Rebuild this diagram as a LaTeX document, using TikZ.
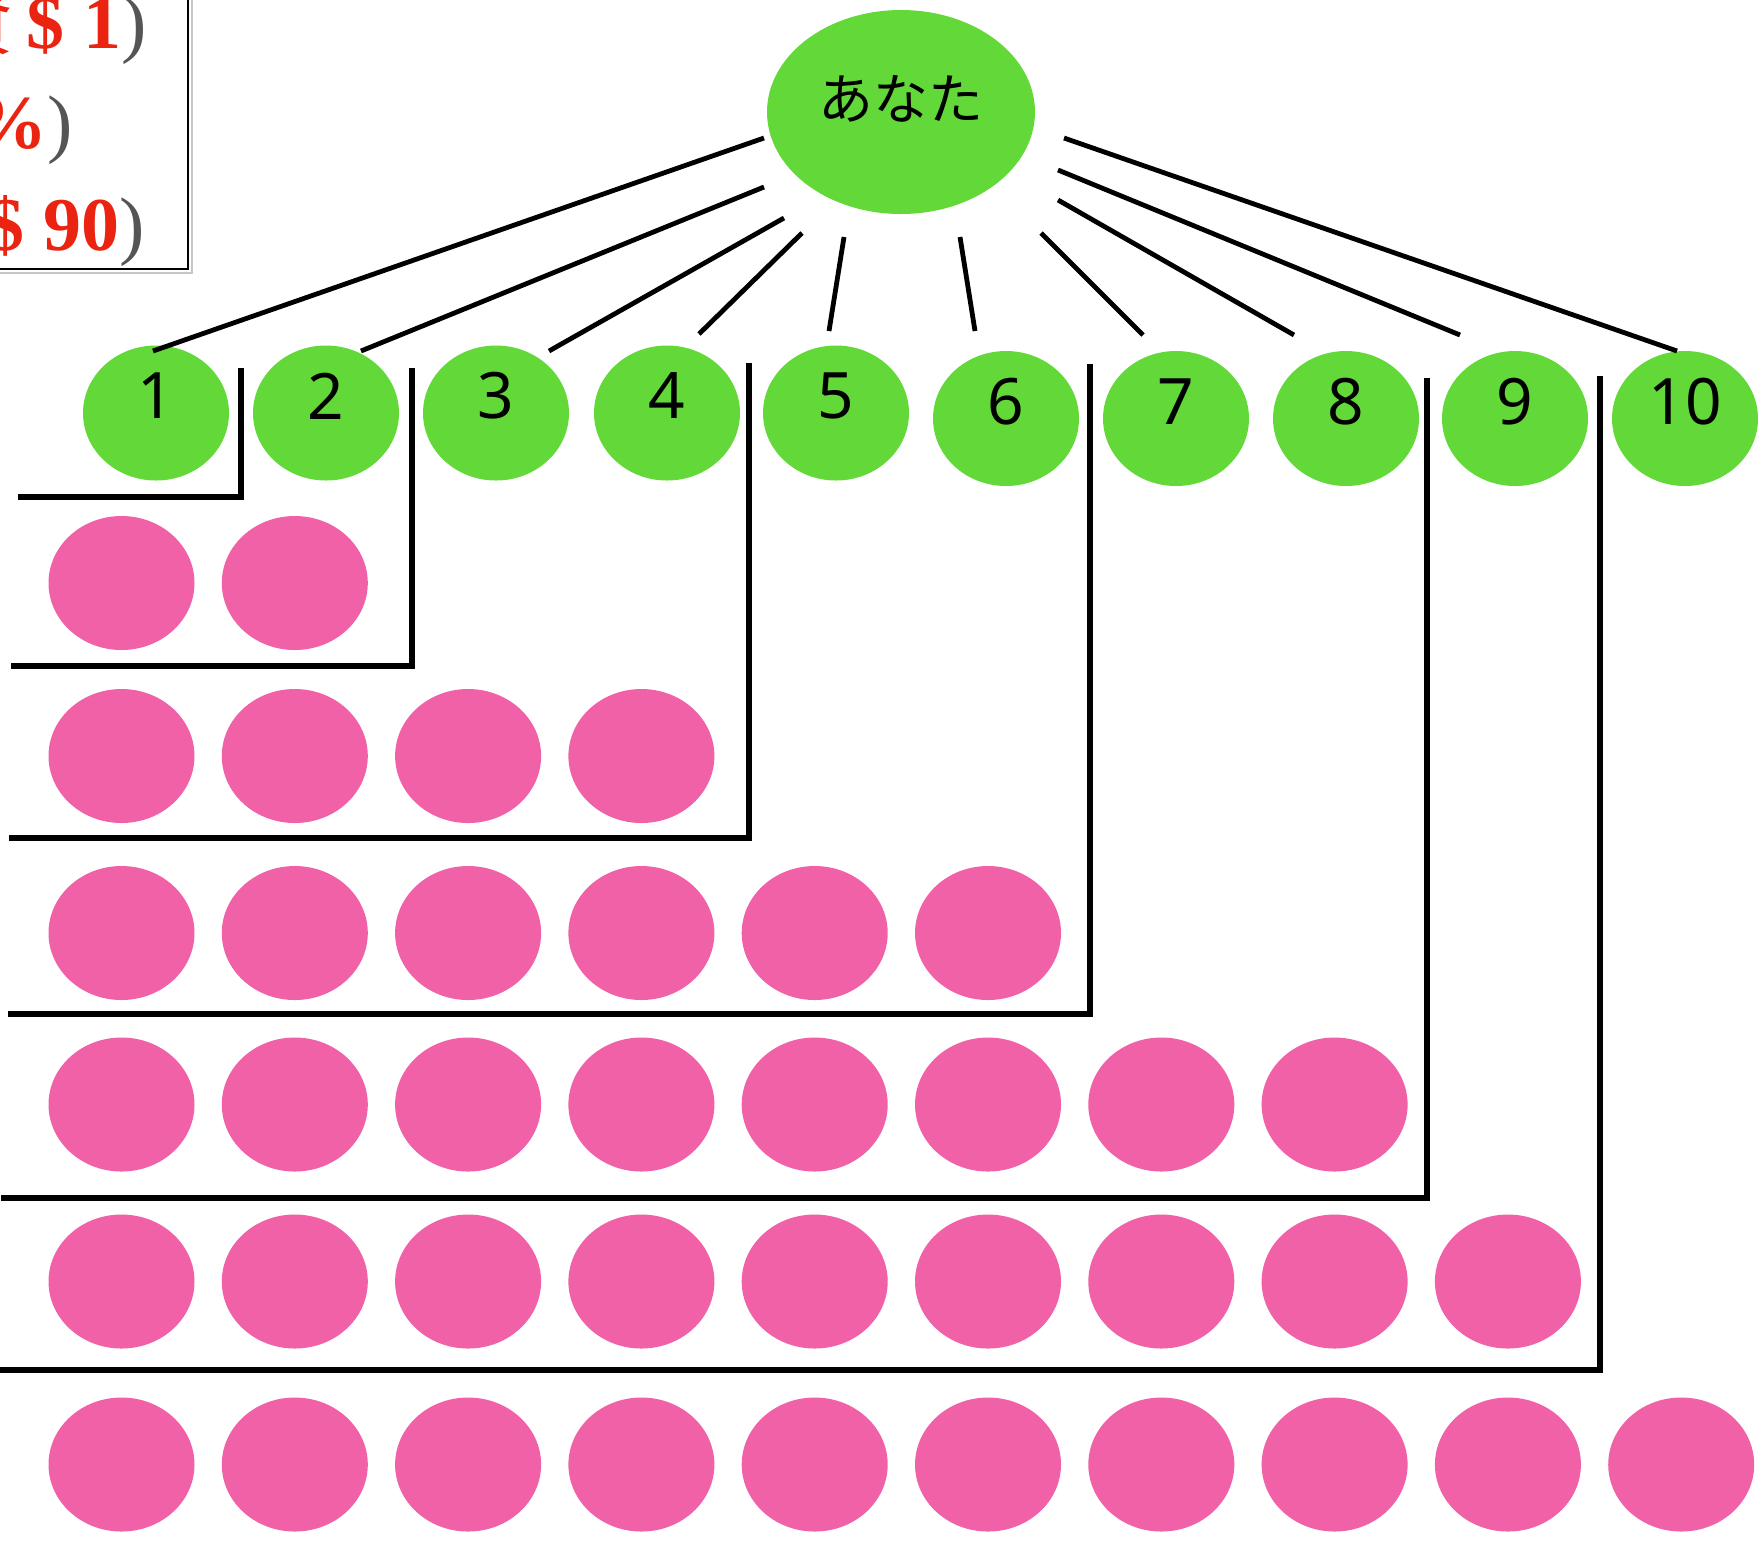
\documentclass[tikz,border=0pt]{standalone}
\usepackage{fontspec}
\setmainfont{Liberation Serif}
\newfontfamily\cjk{Noto Sans CJK JP}
\newfontfamily\numfont{Noto Sans}
\usetikzlibrary{shapes.geometric}
\definecolor{lgreen}{HTML}{63D839}
\definecolor{lpink}{HTML}{F061A7}
\definecolor{tred}{HTML}{EA2410}
\definecolor{pgray}{HTML}{555555}
\begin{document}
\begin{tikzpicture}[x=0.5pt,y=-0.5pt,
  gball/.style={ellipse, fill=lgreen, draw=none, minimum width=73pt, minimum height=67.5pt, inner sep=0pt},
  bigball/.style={ellipse, fill=lgreen, draw=none, minimum width=134pt, minimum height=102pt, inner sep=0pt},
  pball/.style={ellipse, fill=lpink, draw=none, minimum width=73pt, minimum height=67pt, inner sep=0pt},
  numlbl/.style={inner sep=0pt, font=\numfont\fontsize{32}{32}\selectfont},
  youlbl/.style={inner sep=0pt, font=\cjk\fontsize{27.5}{28}\selectfont},
  boxtxt/.style={inner sep=0pt, anchor=base east, font=\fontsize{38}{40}\selectfont},
  conn/.style={line width=2.4pt, line cap=butt},
  bracket/.style={line width=2.6pt, line cap=butt, line join=miter}]
\useasboundingbox (0,0) rectangle (1764,1549);

% text box (partly cut off)
\draw[gray!45, line width=1pt] (192,-10) -- (192,273) -- (-10,273);
\draw[line width=1.3pt] (-10,-10) rectangle (188,269);
\node[boxtxt] (t1) at (147,48) {{\color{tred}{\cjk 資}\,{\bfseries\$\ 1}}{\color{pgray})}};
\node[boxtxt] (t2) at (73,148) {{\color{tred}\bfseries\%}{\color{pgray})}};
\node[boxtxt] (t3) at (145,250) {{\color{tred}\bfseries\$\ 90}{\color{pgray})}};

% you
\node[bigball] (you) at (901,112) {};
\node[youlbl] (youtxt) at (901,98.5) {あなた};

% green row
\foreach \i/\x/\y in {1/156/413,2/326/413,3/496/413,4/667/413,5/836/413,
                      6/1006/418.5,7/1176/418.5,8/1346/418.5,9/1515/418.5,10/1685/418.5}{
  \node[gball] (g\i) at (\x,\y) {};
  \node[numlbl] (gl\i) at ([yshift=8.5pt]g\i.center) {\i};
}

% pink rows
\foreach \r/\y/\n in {1/583/2,2/756/4,3/933/6,4/1104.5/8,5/1281.5/9,6/1464.5/10}{
  \foreach \k in {1,...,\n}{
    \node[pball] (p\r-\k) at ({121.5+173.3*(\k-1)},\y) {};
  }
}

% fan connectors
\foreach \i/\ax/\ay/\bx/\by in {1/764/138/153/351, 2/764/187/361/351, 3/784/218/549/351,
   4/802/233/699/334, 5/844/237/829/331, 6/960/237/975/331, 7/1041/233/1143/335,
   8/1058/200/1294/335, 9/1058/170/1460/335, 10/1064/138/1677/351}{
  \coordinate (fs\i) at (\ax,\ay);
  \coordinate (fe\i) at (\bx,\by);
  \draw[conn] (fs\i) -- (fe\i);
}

% brackets
\foreach \i/\lx/\ly/\tx/\ty in {1/18/497/241/368, 2/11/666/412/368, 3/9/838/749/363,
   4/8/1014/1090/364, 5/1/1198/1427/378, 6/-3/1370/1600/376}{
  \coordinate (bl\i) at (\lx,\ly);
  \coordinate (bt\i) at (\tx,\ty);
  \draw[bracket] (bl\i) -| (bt\i);
}
\end{tikzpicture}
\end{document}
